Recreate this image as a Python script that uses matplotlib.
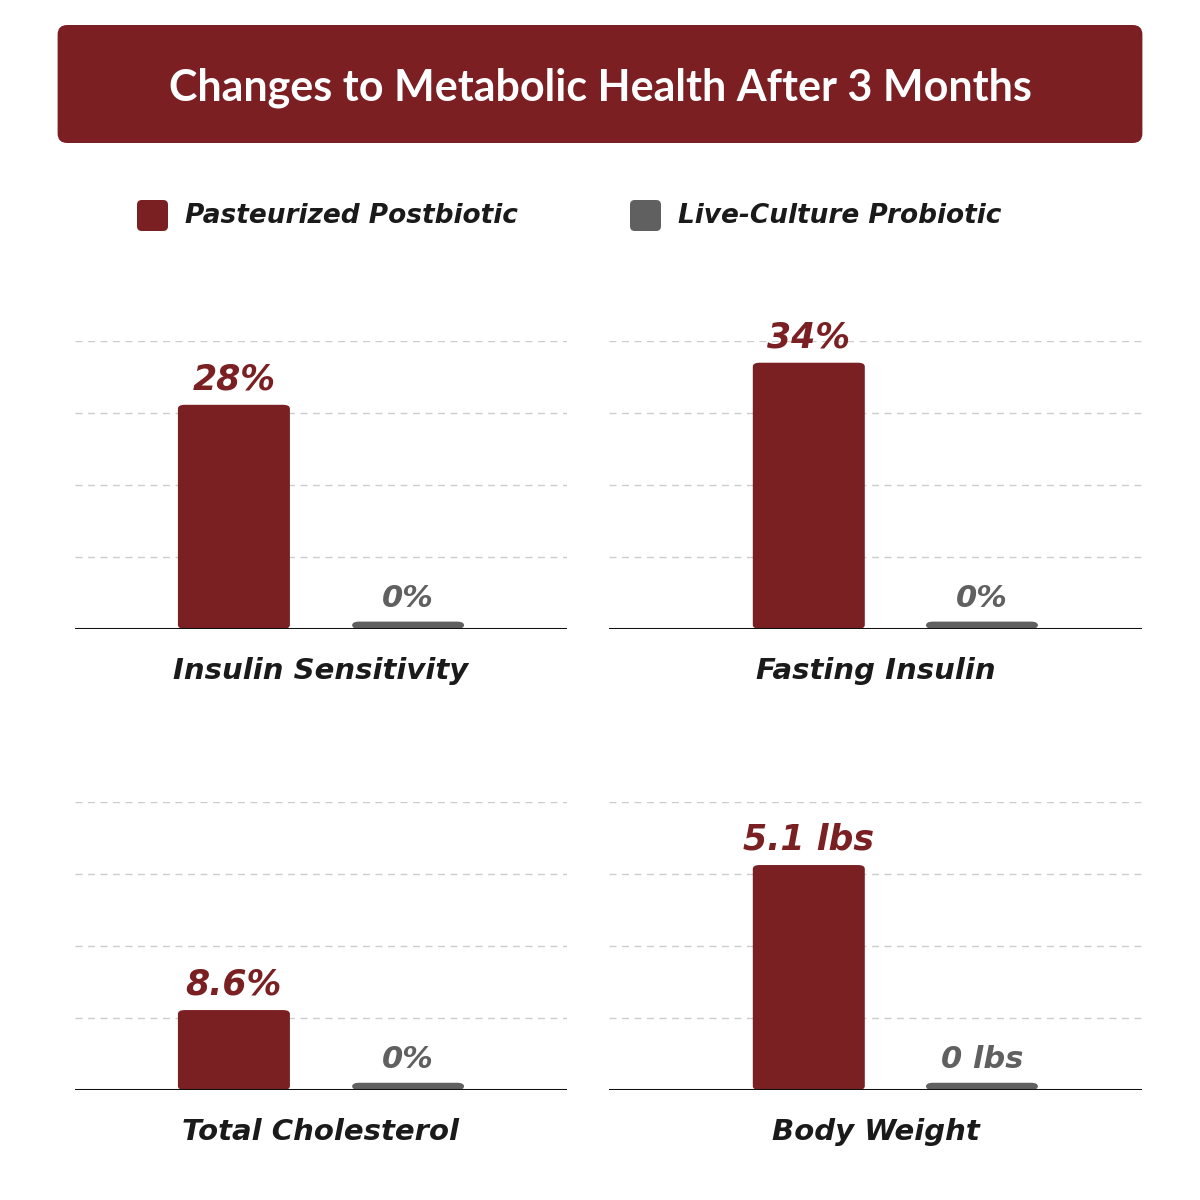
import matplotlib.pyplot as plt
from matplotlib.patches import FancyBboxPatch

RED = "#7a1f22"
GRAY = "#606060"
COND = ["Liberation Sans Narrow", "DejaVu Sans"]

title = "Changes to Metabolic Health After 3 Months"
series_names = ["Pasteurized Postbiotic", "Live-Culture Probiotic"]
panel_names = ["Insulin Sensitivity", "Fasting Insulin", "Total Cholesterol", "Body Weight"]
postbiotic = [28, 34, 8.6, 5.1]
probiotic = [0, 0, 0, 0]
value_labels = [["28%", "0%"], ["34%", "0%"], ["8.6%", "0%"], ["5.1 lbs", "0 lbs"]]
ymax = [36, 36.8, 31, 6.53]

# axes rects (figure fractions) and bar centre fractions inside each axes
rects = [
    [0.0625, 0.476, 0.41, 0.24],
    [0.5075, 0.476, 0.444, 0.24],
    [0.0625, 0.0917, 0.41, 0.24],
    [0.5075, 0.0917, 0.444, 0.24],
]
centres = [(0.323, 0.677), (0.375, 0.70), (0.323, 0.677), (0.375, 0.70)]

fig = plt.figure(figsize=(12, 12), dpi=100)
fig.patch.set_facecolor("white")

# title banner
fig.patches.append(FancyBboxPatch((0.048, 1 - 143 / 1200), 0.904, 118 / 1200,
                                  boxstyle="round,pad=0,rounding_size=0.008",
                                  transform=fig.transFigure, fc="#7b1f22", ec="none"))
fig.text(0.5, 1 - 88 / 1200, title, ha="center", va="center", color="white",
         fontsize=31, fontweight="bold", family=["Lato", "DejaVu Sans"])

# legend
for name, col, x in zip(series_names, [RED, GRAY], [137, 630]):
    fig.patches.append(FancyBboxPatch((x / 1200, 1 - 231 / 1200), 31 / 1200, 31 / 1200,
                                      boxstyle="round,pad=0,rounding_size=0.004",
                                      transform=fig.transFigure, fc=col, ec="none"))
    fig.text((x + 48) / 1200, 1 - 216 / 1200, name, ha="left", va="center",
             fontsize=19, fontweight="bold", style="italic", family=COND, color="#1a1a1a")

for i in range(4):
    ax = fig.add_axes(rects[i])
    f0, f1 = centres[i]
    unit = f1 - f0
    ax.set_xlim(-f0 / unit, (1 - f0) / unit)
    ax.set_ylim(0, ymax[i])
    width = (112 / 1200 / rects[i][2]) / unit
    vals = [postbiotic[i], probiotic[i]]
    for j, (v, col) in enumerate(zip(vals, [RED, GRAY])):
        h = max(v, 0.025 * ymax[i])
        ax.add_patch(FancyBboxPatch((j - width / 2, 0), width, h,
                                    boxstyle="round,pad=0,rounding_size=0.04",
                                    mutation_aspect=ymax[i] / 3,
                                    fc=col, ec="none", zorder=3))
        ax.text(j, h + 0.03 * ymax[i], value_labels[i][j], ha="center", va="bottom",
                fontsize=25 if j == 0 else 22, fontweight="bold", style="italic",
                family=COND, color=col, zorder=4)
    for k in range(1, 5):
        ax.axhline(ymax[i] * k / 4, color="#cccccc", lw=1, ls=(0, (5, 4)), zorder=1)
    ax.axhline(0, color="#111111", lw=2.2, zorder=5)
    for s in ax.spines.values():
        s.set_visible(False)
    ax.set_xticks([])
    ax.set_yticks([])
    ax.patch.set_alpha(0)
    ax.set_clip_on(False)
    cx = rects[i][0] + rects[i][2] / 2
    fig.text(cx, rects[i][1] - 42 / 1200, panel_names[i], ha="center", va="center",
             fontsize=21, fontweight="bold", style="italic", family=COND, color="#1a1a1a")

fig.savefig("out.png", dpi=100)
